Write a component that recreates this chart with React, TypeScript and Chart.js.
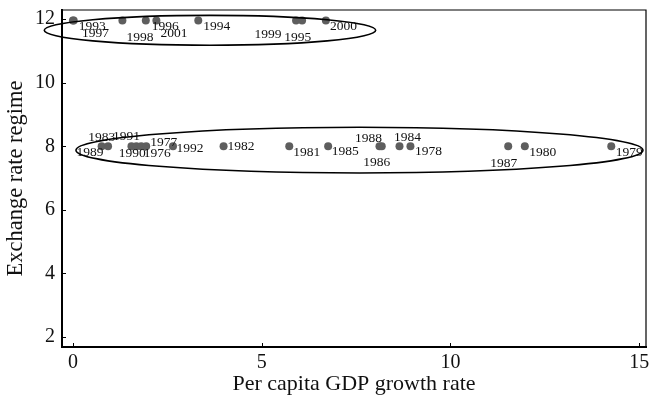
import React, { useEffect, useRef } from "react";
import { Chart, registerables } from "chart.js";

Chart.register(...registerables);

// Fixed regime (upper group)
const fixedYears = ["1993", "1997", "1998", "1996", "2001", "1994", "1999", "1995", "2000"];
const fixedGrowth = [0.02, 0.0, 1.31, 1.93, 2.21, 3.32, 5.91, 6.07, 6.7];
const fixedRegime = [11.96, 11.96, 11.96, 11.96, 11.96, 11.96, 11.96, 11.96, 11.96];

// Managed regime (lower group)
const managedYears = [
  "1983", "1989", "1991", "1990", "1976", "1977", "1992", "1982", "1981",
  "1985", "1988", "1986", "1984", "1978", "1987", "1980", "1979",
];
const managedGrowth = [
  0.76, 0.93, 1.55, 1.68, 1.81, 1.94, 2.65, 3.99, 5.73,
  6.76, 8.12, 8.18, 8.65, 8.94, 11.53, 11.97, 14.26,
];
const managedRegime = [8, 8, 8, 8, 8, 8, 8, 8, 8, 8, 8, 8, 8, 8, 8, 8, 8];

// Marker-label placement (pixel offsets of label centre from marker)
const fixedLabelPlacement = [
  [18.5, 6], [22.5, 13], [17.5, 17], [19.5, 5.5], [17.5, 13], [18.5, 6], [-28, 14], [-4.3, 17], [17.5, 6],
];
const managedLabelPlacement = [
  [0, -9], [-18, 6.5], [-5, -10], [-4, 7.5], [16, 7.5], [17.5, -4], [17, 2.5], [17.5, 0.5], [17.5, 6.5],
  [17, 5.5], [-11, -7.5], [-5, 16], [8, -9], [18, 5.5], [-4.5, 17], [18, 6.5], [18, 6],
];

// Group ellipses in data units: [cx, cy, rx, ry]
const fixedEllipse = [3.63, 11.65, 4.39, 0.47];
const managedEllipse = [7.59, 7.88, 7.51, 0.72];

const xTickValues = [0, 5, 10, 15];
const yTickValues = [2, 4, 6, 8, 10, 12];

const xTitle = "Per capita GDP growth rate";
const yTitle = "Exchange rate regime";

const SERIF = "'Liberation Serif', 'Times New Roman', serif";

export default function App() {
  const ref = useRef<HTMLCanvasElement | null>(null);

  useEffect(() => {
    document.body.style.margin = "0";
    const canvas = ref.current;
    if (!canvas) return;

    const decor = {
      id: "decor",
      afterDatasetsDraw(chart: any) {
        const ctx = chart.ctx;
        const xs = chart.scales.x;
        const ys = chart.scales.y;
        const area = chart.chartArea;
        ctx.save();
        // marker labels
        ctx.fillStyle = "#111";
        ctx.font = `13.5px ${SERIF}`;
        ctx.textAlign = "center";
        ctx.textBaseline = "middle";
        const drawLabels = (yrs: string[], gx: number[], gy: number[], pl: number[][]) => {
          yrs.forEach((yr, i) => {
            const px = xs.getPixelForValue(gx[i]);
            const py = ys.getPixelForValue(gy[i]);
            ctx.fillText(yr, px + pl[i][0], py + pl[i][1]);
          });
        };
        drawLabels(fixedYears, fixedGrowth, fixedRegime, fixedLabelPlacement);
        drawLabels(managedYears, managedGrowth, managedRegime, managedLabelPlacement);

        // ellipses
        ctx.strokeStyle = "#000";
        ctx.lineWidth = 1.6;
        [fixedEllipse, managedEllipse].forEach((e) => {
          const cx = xs.getPixelForValue(e[0]);
          const cy = ys.getPixelForValue(e[1]);
          const rx = Math.abs(xs.getPixelForValue(e[0] + e[2]) - cx);
          const ry = Math.abs(ys.getPixelForValue(e[1] + e[3]) - cy);
          ctx.beginPath();
          ctx.ellipse(cx, cy, rx, ry, 0, 0, Math.PI * 2);
          ctx.stroke();
        });

        // top & right frame
        ctx.lineWidth = 1.2;
        ctx.beginPath();
        ctx.moveTo(area.left, area.top);
        ctx.lineTo(area.right, area.top);
        ctx.lineTo(area.right, area.bottom);
        ctx.stroke();

        // inward ticks
        ctx.lineWidth = 1;
        xTickValues.forEach((v) => {
          const px = Math.round(xs.getPixelForValue(v)) + 0.5;
          ctx.beginPath();
          ctx.moveTo(px, area.bottom);
          ctx.lineTo(px, area.bottom - 4);
          ctx.stroke();
        });
        yTickValues.forEach((v) => {
          const py = Math.round(ys.getPixelForValue(v)) + 0.5;
          ctx.beginPath();
          ctx.moveTo(area.left, py);
          ctx.lineTo(area.left + 4, py);
          ctx.stroke();
        });
        ctx.restore();
      },
    };

    const pts = (gx: number[], gy: number[]) => gx.map((v, i) => ({ x: v, y: gy[i] }));

    const chart = new Chart(canvas, {
      type: "scatter",
      data: {
        datasets: [
          {
            label: "Fixed",
            data: pts(fixedGrowth, fixedRegime),
            backgroundColor: "#5e5e5e",
            borderColor: "#5e5e5e",
            pointRadius: 4,
            borderWidth: 0,
          },
          {
            label: "Managed",
            data: pts(managedGrowth, managedRegime),
            backgroundColor: "#5e5e5e",
            borderColor: "#5e5e5e",
            pointRadius: 4,
            borderWidth: 0,
          },
        ],
      },
      options: {
        animation: false,
        responsive: true,
        maintainAspectRatio: false,
        layout: { padding: { top: 10, right: 2, left: 0, bottom: 0 } },
        plugins: {
          legend: { display: false },
          tooltip: { enabled: false },
        },
        scales: {
          x: {
            type: "linear",
            min: -0.29,
            max: 15.18,
            afterFit: (s: any) => {
              s.height = 50;
              s.paddingLeft = 0;
              s.paddingRight = 0;
            },
            afterBuildTicks: (s: any) => {
              s.ticks = xTickValues.map((v) => ({ value: v }));
            },
            grid: { display: false, drawTicks: false },
            border: { display: true, color: "#000", width: 2 },
            ticks: {
              color: "#111",
              font: { family: SERIF, size: 20 },
              padding: 4,
              maxRotation: 0,
            },
            title: {
              display: true,
              text: xTitle,
              color: "#111",
              font: { family: SERIF, size: 22 },
              padding: { top: 0, bottom: 0 },
            },
          },
          y: {
            type: "linear",
            min: 1.685,
            max: 12.29,
            afterFit: (s: any) => {
              s.width = 62;
              s.paddingTop = 0;
              s.paddingBottom = 0;
            },
            afterBuildTicks: (s: any) => {
              s.ticks = yTickValues.map((v) => ({ value: v }));
            },
            grid: { display: false, drawTicks: false },
            border: { display: true, color: "#000", width: 2 },
            ticks: {
              color: "#111",
              font: { family: SERIF, size: 20 },
              padding: 7,
            },
            title: {
              display: true,
              text: yTitle,
              color: "#111",
              font: { family: SERIF, size: 22.5 },
              padding: { top: 3, bottom: 0 },
            },
          },
        },
      },
      plugins: [decor],
    });

    return () => chart.destroy();
  }, []);

  return (
    <div style={{ width: 650, height: 397, position: "relative" }}>
      <canvas ref={ref} />
    </div>
  );
}
